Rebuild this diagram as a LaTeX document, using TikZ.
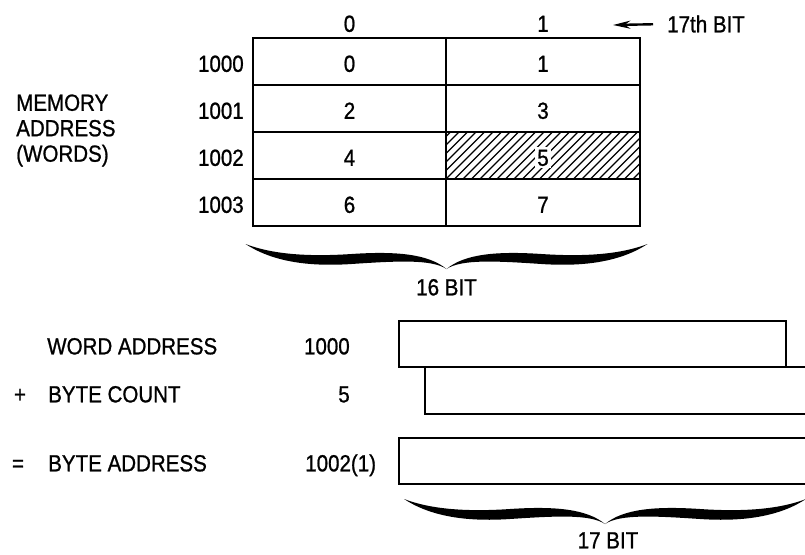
\documentclass[tikz,border=0pt]{standalone}
\usepackage{fontspec}
\setmainfont[FakeStretch=0.88,FakeBold=0.9]{Liberation Sans}
\usetikzlibrary{arrows.meta}

\tikzset{
  bitbrace/.pic={
    \foreach \s in {-1,1}{
      \fill[xscale=\s] (-201,0) .. controls (-175,17) and (-140,23) .. (-95,20)
        .. controls (-50,17) and (-15,15) .. (0,25)
        .. controls (-18,10) and (-50,7) .. (-95,10)
        .. controls (-140,13) and (-175,10) .. (-201,0) -- cycle;
    }
  }
}

\begin{document}
\begin{tikzpicture}[x=0.75pt,y=-0.75pt,
  lbl/.style={font=\fontsize{17.5}{19.1}\selectfont,inner sep=0pt,text height=12.5pt,text depth=0pt},
  multilbl/.style={font=\fontsize{17.5}{19.1}\selectfont,inner sep=0pt,align=left},
  frame/.style={line width=1.6pt},
  hatch/.style={line width=0.9pt},
  bitarrow/.style={-{Stealth[length=13pt,width=6pt]},line width=1.8pt}]
\useasboundingbox (0,0) rectangle (805,554);

% memory table
\node[lbl] (h0) at (349.5,23.5) {0};
\node[lbl] (h1) at (543,23.5) {1};
\coordinate (tip17) at (613,25);
\node[lbl,anchor=west] (bit17) at (667,24) {17th BIT};
\draw[bitarrow,shorten <=10.5pt] (bit17.west) -- (tip17);

\begin{scope}
\clip (446,132) rectangle (640,179);
\foreach \i in {-6,...,24}
  \draw[hatch] ({446+\i*8.5},179) -- ++(47,-47);
\end{scope}

\draw[frame] (253,38) rectangle (640,226);
\draw[frame] (446,38) -- (446,226);
\foreach \y in {85,132,179}
  \draw[frame] (253,\y) -- (640,\y);

\node[lbl,anchor=east] (r1000) at (244,63.5) {1000};
\node[lbl,anchor=east] (r1001) at (244,110.5) {1001};
\node[lbl,anchor=east] (r1002) at (244,157.5) {1002};
\node[lbl,anchor=east] (r1003) at (244,204.5) {1003};

\node[lbl] (c0) at (349.5,63.5) {0};
\node[lbl] (c1) at (543,63.5) {1};
\node[lbl] (c2) at (349.5,110.5) {2};
\node[lbl] (c3) at (543,110.5) {3};
\node[lbl] (c4) at (349.5,157.5) {4};
\node[lbl,fill=white,inner sep=1.5pt] (c5) at (543,157.5) {5};
\node[lbl] (c6) at (349.5,204.5) {6};
\node[lbl] (c7) at (543,204.5) {7};

\node[multilbl,anchor=west] (memaddr) at (16,130.5) {MEMORY\\ADDRESS\\(WORDS)};

\pic at (446.5,244) {bitbrace};
\node[lbl] (bits16) at (446.5,287) {16 BIT};

% address calculation
\node[lbl,anchor=west] (wordaddr) at (47,346) {WORD ADDRESS};
\node[lbl] (plus) at (20,394) {+};
\node[lbl,anchor=west] (bytecount) at (48,394) {BYTE COUNT};
\node[lbl] (equals) at (18,463) {=};
\node[lbl,anchor=west] (byteaddr) at (48,463) {BYTE ADDRESS};

\node[lbl,anchor=east] (v1000) at (350,346) {1000};
\node[lbl,anchor=east] (v5) at (350,394) {5};
\node[lbl,anchor=west] (v1002) at (305,463) {1002(1)};

\draw[frame] (399,321) rectangle (786,367);
\draw[frame] (806,367) -- (425,367) -- (425,414) -- (806,414);
\draw[frame] (806,438) -- (399,438) -- (399,484) -- (806,484);

\pic at (605,499) {bitbrace};
\node[lbl] (bits17) at (608,540) {17 BIT};
\end{tikzpicture}
\end{document}
